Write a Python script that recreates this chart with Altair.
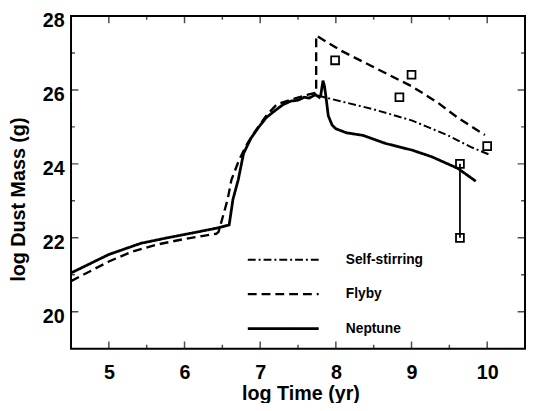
import altair as alt
import pandas as pd

# ---------------- data ----------------
series_names = ["Self-stirring", "Flyby", "Neptune"]

neptune_x = [4.5, 5.0, 5.42, 5.77, 6.1, 6.42, 6.59, 6.64, 6.71, 6.78, 6.88, 6.98, 7.08,
             7.19, 7.3, 7.41, 7.5, 7.58, 7.65, 7.73, 7.78, 7.80, 7.83, 7.85, 7.87, 7.9,
             7.95, 8.0, 8.14, 8.36, 8.66, 9.01, 9.27, 9.61, 9.85]
neptune_y = [21.05, 21.55, 21.85, 22.0, 22.13, 22.26, 22.35, 23.04, 23.57, 24.28, 24.7,
             24.99, 25.25, 25.43, 25.6, 25.70, 25.72, 25.8, 25.78, 25.87, 25.8, 25.85,
             26.25, 26.1, 25.8, 25.3, 25.05, 24.95, 24.84, 24.77, 24.55, 24.37, 24.19,
             23.88, 23.53]

flyby_x = [4.5, 5.0, 5.3, 5.64, 6.0, 6.42, 6.45, 6.57, 6.62, 6.72, 6.83, 6.94, 7.08,
           7.22, 7.41, 7.63, 7.74, 7.74, 8.06, 8.62, 9.01, 9.35, 9.61, 9.97]
flyby_y = [20.83, 21.36, 21.62, 21.82, 21.97, 22.11, 22.16, 23.04, 23.57, 24.10, 24.55,
           24.9, 25.3, 25.61, 25.74, 25.87, 25.92, 27.47, 27.07, 26.49, 26.09, 25.65,
           25.25, 24.78]

self_x = [7.76, 7.91, 8.49, 9.01, 9.48, 9.78, 10.04]
self_y = [25.85, 25.77, 25.48, 25.17, 24.77, 24.46, 24.24]

obs_x = [7.99, 8.84, 9.0, 9.64, 9.64, 10.0]
obs_y = [26.80, 25.80, 26.41, 24.0, 22.0, 24.48]

range_x = [9.64]
range_lo = [22.0]
range_hi = [24.0]

x_major = [5, 6, 7, 8, 9, 10]
x_minor = [5.5, 6.5, 7.5, 8.5, 9.5]
y_major = [20, 22, 24, 26, 28]
y_minor = [21, 23, 25, 27]

# ---------------- tables ----------------
rows = []
for name, xs, ys in [("Self-stirring", self_x, self_y),
                     ("Flyby", flyby_x, flyby_y),
                     ("Neptune", neptune_x, neptune_y)]:
    for i, (a, b) in enumerate(zip(xs, ys)):
        rows.append({"series": name, "t": a, "m": b, "i": i})
lines_df = pd.DataFrame(rows)
obs_df = pd.DataFrame({"t": obs_x, "m": obs_y})
range_df = pd.DataFrame({"t": range_x, "m": range_lo, "m2": range_hi})

W, H = 461, 338
FONT = "Liberation Sans"

xscale = alt.Scale(domain=[4.5, 10.5], nice=False, zero=False)
yscale = alt.Scale(domain=[19, 28], nice=False, zero=False)

x_axis = alt.Axis(title="log Time (yr)", values=x_major, format="d", ticks=False,
                  tickSize=0, domain=False, grid=False, labelFont=FONT, labelFontSize=20,
                  labelFontWeight="bold", labelColor="black", labelPadding=14,
                  titleFont=FONT, titleFontSize=20, titleFontWeight="bold",
                  titleColor="black", titleX=233, titleY=51.6,
                  titleBaseline="alphabetic", titleAlign="center")
y_axis = alt.Axis(title="log Dust Mass (g)", values=y_major, format="d", ticks=False,
                  tickSize=0, domain=False, grid=False, labelFont=FONT, labelFontSize=20,
                  labelFontWeight="bold", labelColor="black", labelPadding=7,
                  labelOffset=5, titleFont=FONT, titleFontSize=20,
                  titleFontWeight="bold", titleColor="black", titleX=-47, titleY=186,
                  titleAngle=270, titleBaseline="alphabetic", titleAlign="center")

legend = alt.Legend(title=None, orient="none", legendX=178, legendY=241,
                    symbolType="stroke", symbolSize=5184, clipHeight=13,
                    rowPadding=20, labelOffset=26, labelFont=FONT, labelFontSize=14,
                    labelFontWeight="bold", labelColor="black", padding=0,
                    symbolStrokeColor="black")

lines = alt.Chart(lines_df).mark_line(color="black", clip=True, strokeCap="butt").encode(
    x=alt.X("t:Q", scale=xscale, axis=x_axis),
    y=alt.Y("m:Q", scale=yscale, axis=y_axis),
    strokeDash=alt.StrokeDash("series:N", sort=series_names,
                              scale=alt.Scale(domain=series_names,
                                              range=[[8, 3, 2, 3], [9, 5], [1, 0]]),
                              legend=legend),
    strokeWidth=alt.StrokeWidth("series:N", sort=series_names,
                                scale=alt.Scale(domain=series_names, range=[2.0, 2.8, 3.3]),
                                legend=legend),
    order="i:Q",
)

squares = alt.Chart(obs_df).mark_point(shape="square", filled=False, color="black",
                                       strokeWidth=1.8, size=64, opacity=1).encode(
    x=alt.X("t:Q", scale=xscale), y=alt.Y("m:Q", scale=yscale))

bar = alt.Chart(range_df).mark_rule(color="black", strokeWidth=1.8).encode(
    x=alt.X("t:Q", scale=xscale), y=alt.Y("m:Q", scale=yscale), y2="m2:Q")


def xticks(vals, length, ypos):
    return alt.Chart(pd.DataFrame({"t": vals})).mark_tick(
        color="black", thickness=1.5, size=2 * length, clip=True, orient="vertical").encode(
        x=alt.X("t:Q", scale=xscale), y=alt.value(ypos))


def yticks(vals, length, xpos):
    return alt.Chart(pd.DataFrame({"m": vals})).mark_tick(
        color="black", thickness=1.5, size=2 * length, clip=True, orient="horizontal").encode(
        y=alt.Y("m:Q", scale=yscale), x=alt.value(xpos))


tick_layers = [
    xticks(x_major, 7.5, H), xticks(x_major, 7.5, 0),
    xticks(x_minor, 4, H), xticks(x_minor, 4, 0),
    yticks(y_major, 7.5, 0), yticks(y_major, 7.5, W),
    yticks(y_minor, 4, 0), yticks(y_minor, 4, W),
]

chart = alt.layer(lines, *tick_layers, bar, squares).properties(
    width=W, height=H,
    padding={"left": 64, "top": 5, "right": 1, "bottom": 52},
    autosize=alt.AutoSizeParams(type="none"),
    background="white",
).configure_view(stroke="black", strokeWidth=2)

chart.save("out.html", embed_options={"renderer": "svg", "actions": False})
